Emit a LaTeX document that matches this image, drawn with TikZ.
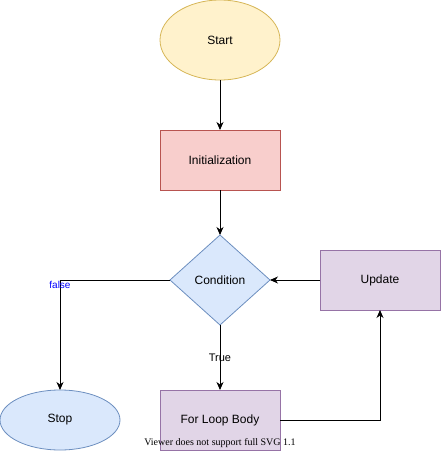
\documentclass[tikz,border=0pt]{standalone}
\usepackage{fontspec}
\setmainfont{Liberation Sans}
\newfontfamily\serifviewer{Liberation Serif}
\usetikzlibrary{shapes.geometric,arrows.meta}
\definecolor{startfill}{HTML}{FFF2CC}
\definecolor{startdraw}{HTML}{D6B656}
\definecolor{initfill}{HTML}{F8CECC}
\definecolor{initdraw}{HTML}{B85450}
\definecolor{bluefill}{HTML}{DAE8FC}
\definecolor{bluedraw}{HTML}{6C8EBF}
\definecolor{purplefill}{HTML}{E1D5E7}
\definecolor{purpledraw}{HTML}{9673A6}
\tikzset{
  every node/.style={font=\fontsize{12}{14}\selectfont, inner sep=0pt, outer sep=0pt},
  ovalnode/.style={ellipse, minimum width=120pt, minimum height=80pt, line width=0.8pt},
  boxnode/.style={rectangle, minimum width=120pt, minimum height=60pt, line width=0.8pt},
  decision/.style={diamond, minimum width=100pt, minimum height=90pt, line width=0.8pt},
  conn/.style={line width=0.9pt, -{Stealth[length=8pt,width=7pt,inset=2.5pt]}},
  lbl/.style={font=\fontsize{11}{13}\selectfont, inner sep=0.5pt}
}
\begin{document}
\begin{tikzpicture}[x=1pt,y=-1pt]
\useasboundingbox (0,0) rectangle (441,451);
\node[ovalnode, fill=startfill, draw=startdraw] (start) at (220,40) {Start};
\node[boxnode, fill=initfill, draw=initdraw] (init) at (220,160) {Initialization};
\node[decision, fill=bluefill, draw=bluedraw] (cond) at (220,280) {Condition};
\node[boxnode, fill=purplefill, draw=purpledraw] (update) at (380,280) {Update};
\node[boxnode, fill=purplefill, draw=purpledraw] (body) at (220,420) {For Loop Body};
\node[ovalnode, minimum height=60pt, fill=bluefill, draw=bluedraw] (stop) at (60,420) {Stop};
\draw[conn] (start.south) -- (init.north);
\draw[conn] (init.south) -- (cond.north);
\draw[conn] (cond.south) -- node[lbl, pos=0.5] (truelbl) {True} (body.north);
\draw[conn] (cond.west) -| (stop.north);
\node[font=\fontsize{10}{12}\selectfont, text=blue, inner sep=0.3pt] (falselbl) at (60,284.5) {false};
\draw[conn] (body.east) -| (update.south);
\draw[conn] (update.west) -- (cond.east);
\node[font=\serifviewer\fontsize{10}{12}\selectfont] (viewer) at (220,443) {Viewer does not support full SVG 1.1};
\end{tikzpicture}
\end{document}
